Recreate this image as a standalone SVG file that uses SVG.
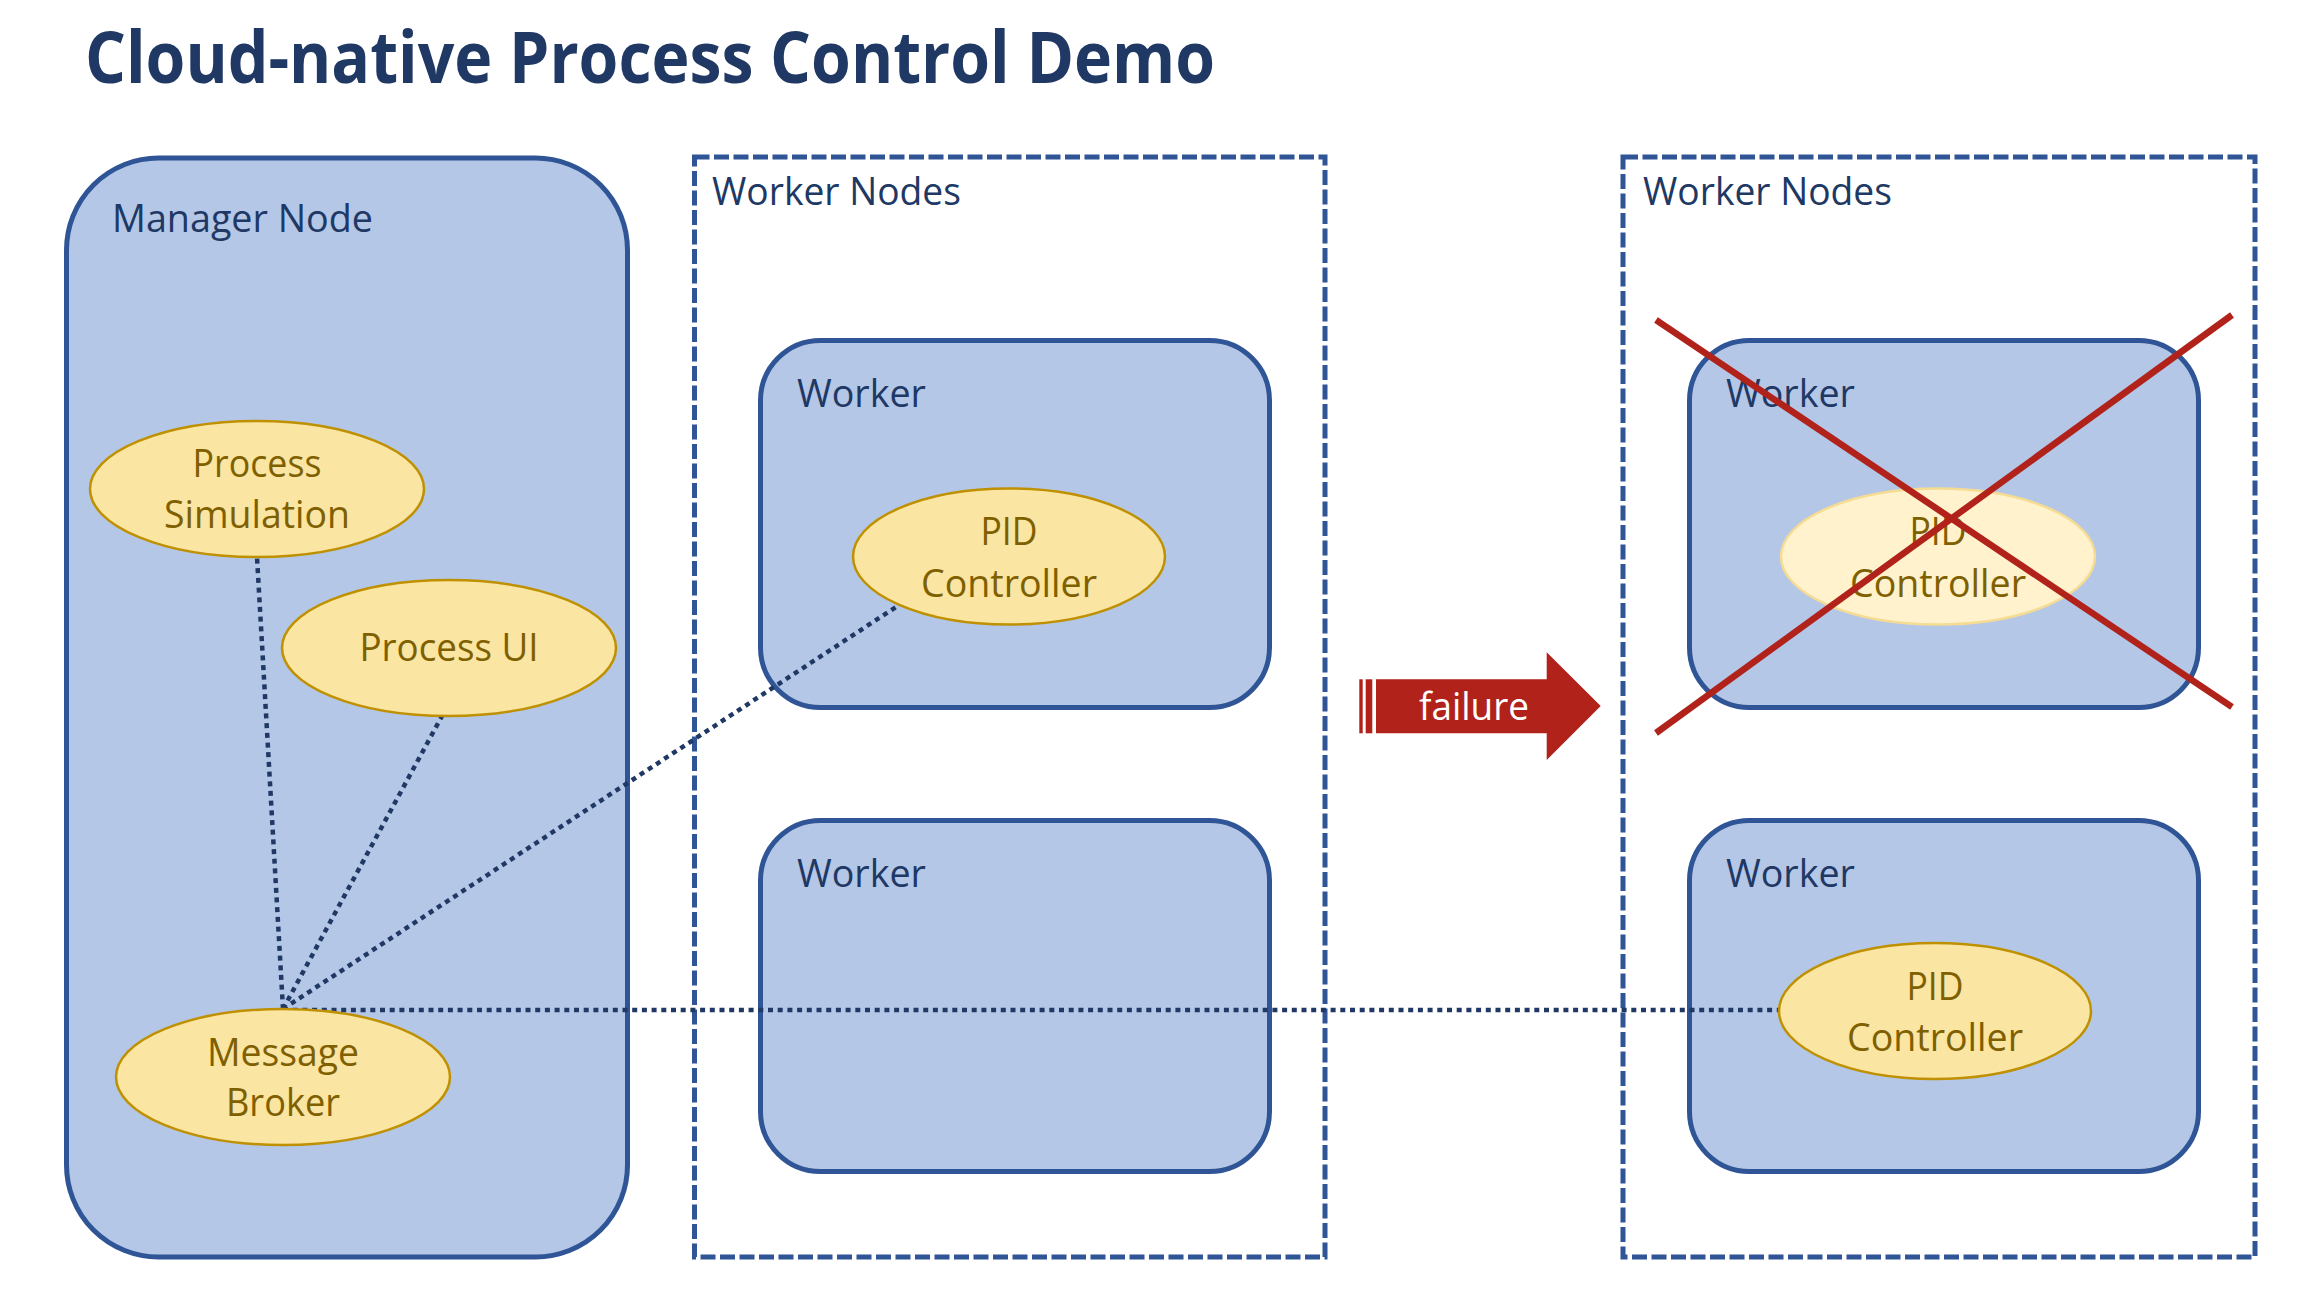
<svg xmlns="http://www.w3.org/2000/svg" width="2314" height="1298" viewBox="0 0 2314 1298">
<style>
.box{fill:#B4C7E7;stroke:#2F5597;stroke-width:5}
.dash{fill:none;stroke:#2F5597;stroke-width:5;stroke-dasharray:15 4.5}
.ell{fill:#FAE5A2;stroke:#BF9000;stroke-width:2.5}
.ellf{fill:#FFF2CC;stroke:#F6DC93;stroke-width:2.5}
.lbl{font-family:"Open Sans","Liberation Sans",sans-serif;font-size:38px;fill:#203864}
.et{font-family:"Open Sans","Liberation Sans",sans-serif;font-size:38px;fill:#7F6000;text-anchor:middle}
.title{font-family:"Open Sans","Liberation Sans",sans-serif;font-size:71px;font-weight:700;fill:#203864}
.conn{fill:none;stroke:#203864;stroke-width:4.5;stroke-dasharray:5 4.7}
.cross{stroke:#B0221A;stroke-width:6.5}
</style>
<rect width="2314" height="1298" fill="#FFFFFF"/>
<text class="title" x="85" y="83" textLength="1130" lengthAdjust="spacingAndGlyphs">Cloud-native Process Control Demo</text>

<g id="manager-node">
<rect class="box" x="66.5" y="158" width="561" height="1099" rx="92" ry="92"/>
<text class="lbl" x="112" y="232" textLength="261" lengthAdjust="spacingAndGlyphs">Manager Node</text>
</g>

<g id="worker-nodes-1">
<rect class="dash" x="694.5" y="157" width="630.5" height="1100"/>
<text class="lbl" x="712" y="205" textLength="249" lengthAdjust="spacingAndGlyphs">Worker Nodes</text>
</g>
<g id="worker-nodes-2">
<rect class="dash" x="1623" y="157" width="632" height="1100"/>
<text class="lbl" x="1643" y="205" textLength="249" lengthAdjust="spacingAndGlyphs">Worker Nodes</text>
</g>

<g id="worker-1">
<rect class="box" x="760.5" y="340.5" width="509" height="367" rx="60" ry="60"/>
<text class="lbl" x="797" y="407" textLength="129" lengthAdjust="spacingAndGlyphs">Worker</text>
</g>
<g id="worker-2">
<rect class="box" x="760.5" y="820.5" width="509" height="351" rx="60" ry="60"/>
<text class="lbl" x="797" y="887" textLength="129" lengthAdjust="spacingAndGlyphs">Worker</text>
</g>
<g id="worker-3">
<rect class="box" x="1689.5" y="340.5" width="509" height="367" rx="60" ry="60"/>
<text class="lbl" x="1726" y="407" textLength="129" lengthAdjust="spacingAndGlyphs">Worker</text>
</g>
<g id="worker-4">
<rect class="box" x="1689.5" y="820.5" width="509" height="351" rx="60" ry="60"/>
<text class="lbl" x="1726" y="887" textLength="129" lengthAdjust="spacingAndGlyphs">Worker</text>
</g>

<g id="connectors">
<line class="conn" x1="283" y1="1009" x2="257" y2="557"/>
<line class="conn" x1="283" y1="1009" x2="442" y2="716"/>
<line class="conn" x1="283" y1="1009" x2="899" y2="605"/>
<line class="conn" x1="283" y1="1010" x2="1779" y2="1010"/>
</g>

<g id="process-simulation">
<ellipse class="ell" cx="257" cy="489" rx="167" ry="68"/>
<text class="et" x="257" y="477" textLength="129" lengthAdjust="spacingAndGlyphs">Process</text>
<text class="et" x="257" y="528" textLength="186" lengthAdjust="spacingAndGlyphs">Simulation</text>
</g>
<g id="process-ui">
<ellipse class="ell" cx="449" cy="648" rx="167" ry="68"/>
<text class="et" x="449" y="661" textLength="179" lengthAdjust="spacingAndGlyphs">Process UI</text>
</g>
<g id="message-broker">
<ellipse class="ell" cx="283" cy="1077" rx="167" ry="68"/>
<text class="et" x="283" y="1066" textLength="152" lengthAdjust="spacingAndGlyphs">Message</text>
<text class="et" x="283" y="1116" textLength="114" lengthAdjust="spacingAndGlyphs">Broker</text>
</g>
<g id="pid-controller-1">
<ellipse class="ell" cx="1009" cy="556.5" rx="156" ry="68"/>
<text class="et" x="1009" y="545" textLength="57" lengthAdjust="spacingAndGlyphs">PID</text>
<text class="et" x="1009" y="597" textLength="176" lengthAdjust="spacingAndGlyphs">Controller</text>
</g>
<g id="pid-controller-failed">
<ellipse class="ellf" cx="1938" cy="556.5" rx="157" ry="68"/>
<text class="et" x="1938" y="545" textLength="57" lengthAdjust="spacingAndGlyphs">PID</text>
<text class="et" x="1938" y="597" textLength="176" lengthAdjust="spacingAndGlyphs">Controller</text>
</g>
<g id="pid-controller-2">
<ellipse class="ell" cx="1935" cy="1011" rx="156" ry="68"/>
<text class="et" x="1935" y="1000" textLength="57" lengthAdjust="spacingAndGlyphs">PID</text>
<text class="et" x="1935" y="1051" textLength="176" lengthAdjust="spacingAndGlyphs">Controller</text>
</g>

<g id="failure-cross">
<line class="cross" x1="1656" y1="320" x2="2232" y2="707"/>
<line class="cross" x1="1656" y1="733" x2="2232" y2="315"/>
</g>

<g id="failure-arrow">
<rect x="1359.3" y="679.3" width="3.4" height="54" fill="#B0221A"/>
<rect x="1365.7" y="679.3" width="6.6" height="54" fill="#B0221A"/>
<polygon points="1376,679.3 1546.7,679.3 1546.7,652.3 1600.7,706 1546.7,760 1546.7,733.3 1376,733.3" fill="#B0221A"/>
<text x="1419" y="720" textLength="110" lengthAdjust="spacingAndGlyphs" style="font-family:'Open Sans','Liberation Sans',sans-serif;font-size:38px;fill:#FFFFFF">failure</text>
</g>
</svg>
